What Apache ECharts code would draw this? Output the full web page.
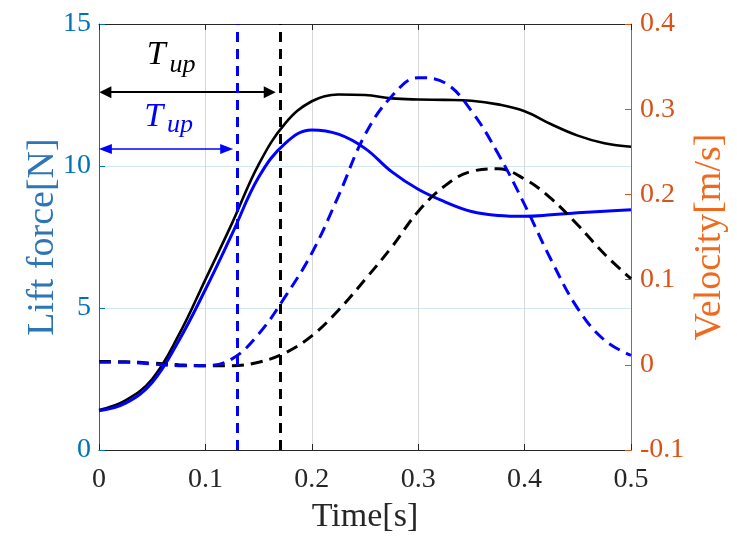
<!DOCTYPE html>
<html>
<head>
<meta charset="utf-8">
<script src="https://cdn.jsdelivr.net/npm/echarts@6/dist/echarts.min.js"></script>
<style>
  html, body { margin: 0; padding: 0; background: #fff; }
  #main { width: 737px; height: 539px; }
</style>
</head>
<body>
<div id="main"></div>
<script>
// sample times [s]
var timeS = [0, 0.025, 0.05, 0.075, 0.1, 0.125, 0.15, 0.175, 0.2, 0.225, 0.25, 0.275, 0.3, 0.325, 0.35, 0.375, 0.4, 0.425, 0.45, 0.475, 0.5];

// lift force [N] (left axis)
var liftBlack = [1.41, 1.75, 2.5, 4.05, 6.0, 7.98, 10.05, 11.5, 12.28, 12.52, 12.5, 12.38, 12.34, 12.33, 12.3, 12.17, 11.93, 11.47, 11.07, 10.8, 10.68];
var liftBlue  = [1.38, 1.65, 2.38, 3.85, 5.65, 7.6, 9.6, 10.8, 11.27, 11.12, 10.62, 9.8, 9.18, 8.74, 8.4, 8.26, 8.23, 8.28, 8.35, 8.41, 8.46];

// velocity [m/s] (right axis)
var velBlack = [0.004, 0.0035, 0.002, 0.0, -0.001, -0.001, 0.003, 0.014, 0.034, 0.064, 0.1, 0.138, 0.18, 0.21, 0.227, 0.23, 0.218, 0.195, 0.164, 0.13, 0.101];
var velBlue  = [0.003, 0.003, 0.001, -0.001, -0.001, 0.007, 0.036, 0.08, 0.131, 0.198, 0.27, 0.315, 0.337, 0.331, 0.298, 0.248, 0.188, 0.123, 0.066, 0.029, 0.011];

// T_up markers
var tUpBlack = 0.168;
var tUpBlue = 0.128;
var arrowBlack = [0.006, 0.1605, 12.6];   // from, to, height
var arrowBlue = [0.006, 0.12, 10.6];

function pairs(t, v) {
  return t.map(function (x, i) { return [x, v[i]]; });
}

var FONT = 'Liberation Serif';
var myChart = echarts.init(document.getElementById('main'), null, { renderer: 'canvas' });

var tLabel = function (coord, text, color, size) {
  return {
    coord: coord,
    symbol: 'circle',
    symbolSize: 0,
    label: {
      show: true, position: 'inside', formatter: text,
      color: color, fontFamily: FONT, fontStyle: 'italic', fontSize: size
    }
  };
};

var option = {
  animation: false,
  textStyle: { fontFamily: FONT },
  grid: { left: 99, top: 24, right: 103, bottom: 87, containLabel: false },
  xAxis: [
    {
      type: 'value', min: 0, max: 0.5, interval: 0.1,
      name: 'Time[s]', nameLocation: 'middle', nameGap: 50, nameMoveOverlap: false,
      nameTextStyle: { color: '#262626', fontFamily: FONT, fontSize: 34 },
      axisLine: { onZero: false, lineStyle: { color: '#262626', width: 1 } },
      axisTick: { inside: true, length: 6, lineStyle: { color: '#262626' } },
      axisLabel: { color: '#262626', fontFamily: FONT, fontSize: 28, margin: 16 },
      splitLine: { show: true, lineStyle: { color: '#d8d8d8', width: 1 } }
    },
    {
      type: 'value', position: 'top', min: 0, max: 0.5, interval: 0.1,
      axisLine: { show: true, onZero: false, lineStyle: { color: '#262626', width: 1 } },
      axisTick: { show: true, inside: true, length: 6, lineStyle: { color: '#262626' } },
      axisLabel: { show: false },
      splitLine: { show: false }
    }
  ],
  yAxis: [
    {
      type: 'value', min: 0, max: 15, interval: 5,
      name: 'Lift force[N]', nameLocation: 'middle', nameGap: 37, nameRotate: 90, nameMoveOverlap: false,
      nameTextStyle: { color: '#2E75B6', fontFamily: FONT, fontSize: 38 },
      axisLine: { show: true, onZero: false, lineStyle: { color: '#0072BD', width: 1 } },
      axisTick: { show: true, inside: true, length: 6, lineStyle: { color: '#0072BD' } },
      axisLabel: { color: '#0072BD', fontFamily: FONT, fontSize: 28, margin: 8 },
      splitLine: { show: true, lineStyle: { color: '#d3e6f3', width: 1 } }
    },
    {
      type: 'value', position: 'right', min: -0.1, max: 0.4, interval: 0.1,
      name: 'Velocity[m/s]', nameLocation: 'middle', nameGap: 60, nameRotate: 90, nameMoveOverlap: false,
      nameTextStyle: { color: '#F0691C', fontFamily: FONT, fontSize: 38 },
      axisLine: { show: true, onZero: false, lineStyle: { color: '#D95319', width: 1 } },
      axisTick: { show: true, inside: true, length: 6, lineStyle: { color: '#D95319' } },
      axisLabel: { color: '#D95319', fontFamily: FONT, fontSize: 28, margin: 9 },
      splitLine: { show: false }
    }
  ],
  series: [
    {
      name: 'lift black', type: 'line', yAxisIndex: 0, smooth: 0.4,
      showSymbol: false, data: pairs(timeS, liftBlack),
      lineStyle: { color: '#000', width: 2.6 },
      markLine: {
        silent: true, animation: false,
        label: { show: false },
        data: [
          [{ coord: [arrowBlack[0], arrowBlack[2]], symbol: 'triangle', symbolSize: [12, 12] },
           { coord: [arrowBlack[1], arrowBlack[2]], symbol: 'triangle', symbolSize: [12, 12] }],
          [{ coord: [arrowBlue[0], arrowBlue[2]], symbol: 'triangle', symbolSize: [10, 13],
             lineStyle: { color: '#0000FF', width: 1.6, type: 'solid' } },
           { coord: [arrowBlue[1], arrowBlue[2]], symbol: 'triangle', symbolSize: [10, 13] }]
        ],
        lineStyle: { color: '#000', width: 2, type: 'solid' }
      },
      markPoint: {
        silent: true, animation: false,
        data: [
          tLabel([0.0537, 13.9], 'T', '#000', 34),
          tLabel([0.0785, 13.56], 'up', '#000', 26),
          tLabel([0.0514, 11.72], 'T', '#0000FF', 34),
          tLabel([0.0762, 11.43], 'up', '#0000FF', 26)
        ]
      }
    },
    {
      name: 'lift blue', type: 'line', yAxisIndex: 0, smooth: 0.4,
      showSymbol: false, data: pairs(timeS, liftBlue),
      lineStyle: { color: '#0000FF', width: 3 }
    },
    {
      name: 'vel black', type: 'line', yAxisIndex: 1, smooth: 0.4,
      showSymbol: false, data: pairs(timeS, velBlack),
      lineStyle: { color: '#000', width: 3, type: [12, 7] }
    },
    {
      name: 'vel blue', type: 'line', yAxisIndex: 1, smooth: 0.4,
      showSymbol: false, data: pairs(timeS, velBlue),
      lineStyle: { color: '#0000FF', width: 3, type: [12, 7] },
      markLine: {
        silent: true, animation: false, symbol: 'none',
        label: { show: false },
        data: [
          { xAxis: tUpBlue, lineStyle: { color: '#0000FF', width: 3, type: [10, 7] } },
          { xAxis: tUpBlack, lineStyle: { color: '#000', width: 3, type: [10, 7] } }
        ]
      }
    }
  ]
};

myChart.setOption(option);
</script>
</body>
</html>
